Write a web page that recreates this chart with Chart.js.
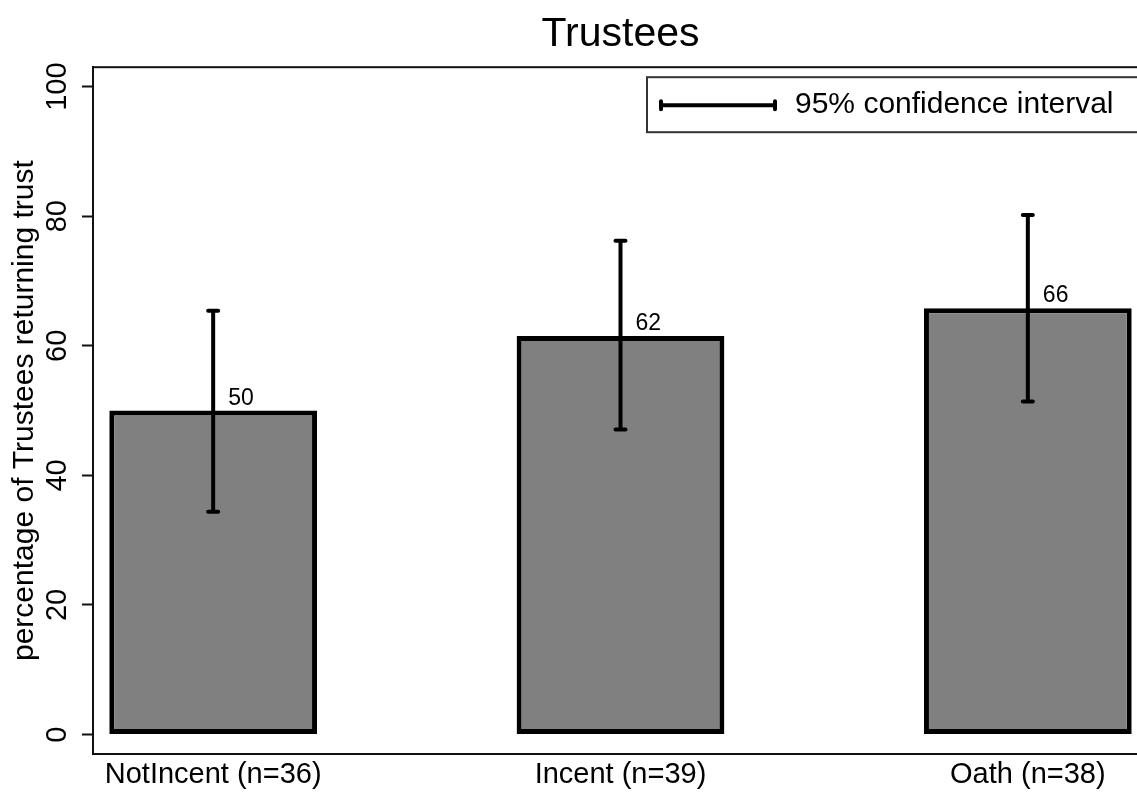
<!DOCTYPE html>
<html>
<head>
<meta charset="utf-8">
<script src="https://cdn.jsdelivr.net/npm/chart.js@4"></script>
<style>
  html, body { margin: 0; padding: 0; background: #fff; overflow: hidden; }
  #wrap { width: 1137px; height: 793px; overflow: hidden; }
</style>
</head>
<body>
<div id="wrap"><canvas id="trustChart" width="1152" height="793"></canvas></div>
<script>
// data
const groups = ['NotIncent (n=36)', 'Incent (n=39)', 'Oath (n=38)'];
const shares = [50.0, 61.5, 65.8];
const ciLow = [34.4, 47.1, 51.4];
const ciHigh = [65.4, 76.2, 80.2];
const yTicks = [0, 20, 40, 60, 80, 100];

const FONT = "'Liberation Sans', Arial, sans-serif";

// error bars, value labels, frame and the little legend box
const extras = {
    id: 'extras',
    afterDatasetsDraw(chart) {
        const ctx = chart.ctx;
        const a = chart.chartArea;
        const x = chart.scales.x;
        const y = chart.scales.y;
        ctx.save();

        ctx.strokeStyle = '#000';
        ctx.lineWidth = 4;
        ctx.lineCap = 'round';
        shares.forEach((v, i) => {
            const px = x.getPixelForValue(i + 1);
            const top = y.getPixelForValue(ciHigh[i]);
            const bot = y.getPixelForValue(ciLow[i]);
            ctx.beginPath();
            ctx.moveTo(px, top); ctx.lineTo(px, bot);
            ctx.moveTo(px - 5, top); ctx.lineTo(px + 5, top);
            ctx.moveTo(px - 5, bot); ctx.lineTo(px + 5, bot);
            ctx.stroke();

            ctx.fillStyle = '#000';
            ctx.font = '23px ' + FONT;
            ctx.textAlign = 'left';
            ctx.textBaseline = 'alphabetic';
            ctx.fillText(String(Math.round(v)), px + 15, y.getPixelForValue(v) - 6);
        });

        // frame round the plot
        ctx.lineCap = 'butt';
        ctx.lineWidth = 2;
        ctx.strokeStyle = '#111';
        ctx.strokeRect(a.left, a.top, a.right - a.left, a.bottom - a.top);

        // legend
        const lx = a.left + 554, ly = a.top + 10;
        ctx.fillStyle = '#fff';
        ctx.fillRect(lx, ly, 540, 55);
        ctx.strokeStyle = '#333';
        ctx.strokeRect(lx, ly, 540, 55);

        const my = ly + 28;
        ctx.strokeStyle = '#000';
        ctx.lineWidth = 4;
        ctx.beginPath();
        ctx.moveTo(lx + 14, my); ctx.lineTo(lx + 128, my);
        ctx.stroke();
        ctx.lineCap = 'round';
        ctx.beginPath();
        ctx.moveTo(lx + 14, my - 4); ctx.lineTo(lx + 14, my + 4);
        ctx.moveTo(lx + 128, my - 4); ctx.lineTo(lx + 128, my + 4);
        ctx.stroke();

        ctx.fillStyle = '#000';
        ctx.font = '30px ' + FONT;
        ctx.textAlign = 'left';
        ctx.textBaseline = 'middle';
        ctx.fillText('95% confidence interval', lx + 148, my);

        ctx.restore();
    }
};

const ctx = document.getElementById('trustChart').getContext('2d');

const trustChart = new Chart(ctx, {
    type: 'bar',
    data: {
        datasets: [{
            data: shares.map((v, i) => ({ x: i + 1, y: v })),
            backgroundColor: '#808080',
            borderColor: '#000',
            borderWidth: 5,
            borderSkipped: false,
            categoryPercentage: 1,
            barPercentage: 0.51
        }]
    },
    options: {
        responsive: false,
        animation: false,
        layout: { padding: { left: 0, right: 4, top: 0, bottom: 0 } },
        plugins: {
            legend: { display: false },
            tooltip: { enabled: false },
            title: {
                display: true,
                text: 'Trustees',
                fullSize: false,
                color: '#000',
                font: { family: FONT, size: 41, weight: 'normal' },
                padding: { top: 10, bottom: 8 }
            }
        },
        scales: {
            x: {
                type: 'linear',
                offset: false,
                min: 0.705,
                max: 3.295,
                afterBuildTicks: s => { s.ticks = groups.map((g, i) => ({ value: i + 1 })); },
                ticks: {
                    callback: v => groups[v - 1],
                    color: '#000',
                    font: { family: FONT, size: 29 },
                    padding: 4,
                    autoSkip: false,
                    maxRotation: 0
                },
                grid: { display: false, drawTicks: false, offset: false },
                border: { display: true, color: '#111', width: 2 },
                afterFit: s => { s.height = 39; }
            },
            y: {
                min: -3,
                max: 103,
                afterBuildTicks: s => { s.ticks = yTicks.map(v => ({ value: v })); },
                ticks: {
                    color: '#000',
                    font: { family: FONT, size: 29 },
                    minRotation: 90,
                    maxRotation: 90,
                    crossAlign: 'center',
                    padding: 0
                },
                grid: {
                    display: true,
                    drawOnChartArea: false,
                    drawTicks: true,
                    tickLength: 11,
                    tickWidth: 2,
                    tickColor: '#111'
                },
                border: { display: true, color: '#111', width: 2 },
                title: {
                    display: true,
                    text: 'percentage of Trustees returning trust',
                    color: '#000',
                    font: { family: FONT, size: 30 },
                    padding: { top: 7, bottom: 0 }
                },
                afterFit: s => { s.width = 93; }
            }
        }
    },
    plugins: [extras]
});
</script>
</body>
</html>
